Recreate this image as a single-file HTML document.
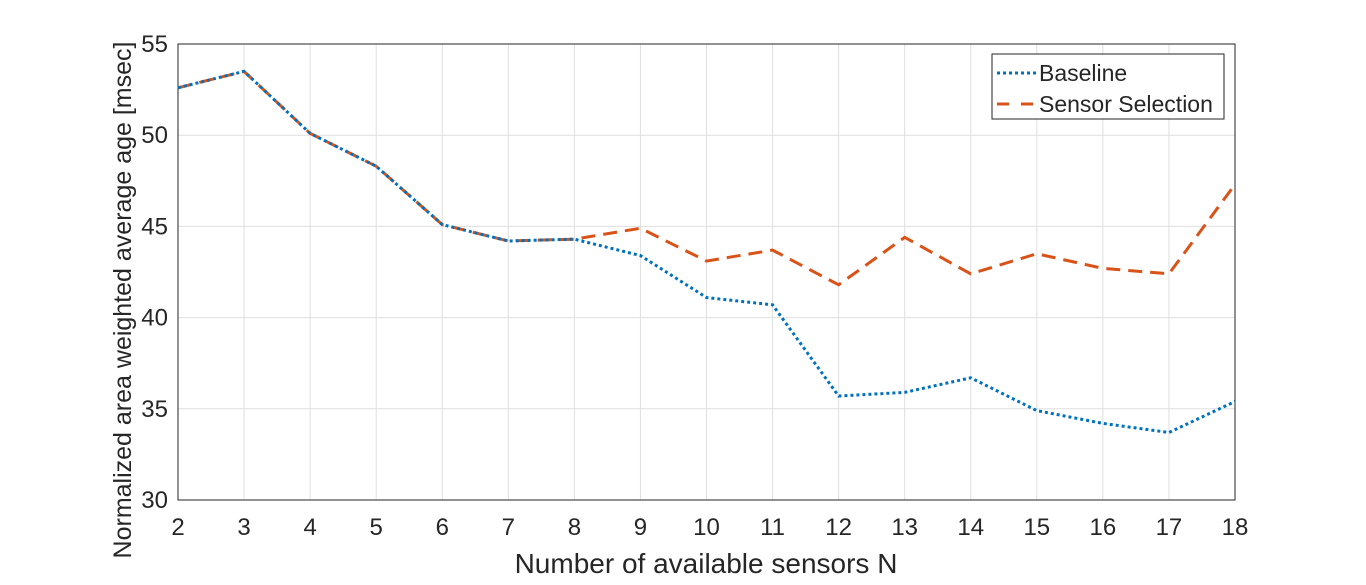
<!DOCTYPE html>
<html><head><meta charset="utf-8"><style>
body{margin:0;background:#fff;width:1366px;height:580px;overflow:hidden}
text{font-family:"Liberation Sans",Arial,sans-serif;fill:#262626}
</style></head><body>
<svg id="chart" width="1366" height="580" xmlns="http://www.w3.org/2000/svg">
<g id="grid"></g>
<g id="axes"></g>
<g id="series"></g>
<text x="706" y="573" font-size="28" text-anchor="middle">Number of available sensors N</text>
<text transform="translate(131,300) rotate(-90)" font-size="25" text-anchor="middle">Normalized area weighted average age [msec]</text>
<g>
<rect x="992" y="54" width="232" height="65" fill="#fff" stroke="#262626" stroke-width="1"/>
<line x1="997" y1="73" x2="1036" y2="73" stroke="#0072BD" stroke-width="3" stroke-dasharray="3,3"/>
<text x="1039" y="81" font-size="23">Baseline</text>
<line x1="997" y1="104" x2="1036" y2="104" stroke="#D95319" stroke-width="3" stroke-dasharray="12,12"/>
<text x="1039" y="112" font-size="23">Sensor Selection</text>
</g>
</svg>
<script>
const categories=[2,3,4,5,6,7,8,9,10,11,12,13,14,15,16,17,18];
const baseline=[52.6,53.5,50.1,48.3,45.1,44.2,44.3,43.4,41.1,40.7,35.7,35.9,36.7,34.9,34.2,33.7,35.4];
const sensorSelection=[52.6,53.5,50.1,48.3,45.1,44.2,44.3,44.9,43.1,43.7,41.8,44.4,42.4,43.5,42.7,42.4,47.3];
const yTicks=[30,35,40,45,50,55];
const L=178,R=1235,T=44,B=500;
const xs=v=>L+(v-2)/16*(R-L);
const ys=v=>B-(v-30)/25*(B-T);
const NS="http://www.w3.org/2000/svg";
function mk(tag,attrs,parent){const e=document.createElementNS(NS,tag);for(const k in attrs)e.setAttribute(k,attrs[k]);parent.appendChild(e);return e;}
const grid=document.getElementById('grid'),axes=document.getElementById('axes'),series=document.getElementById('series');
categories.forEach(c=>{
 const g=mk('line',{x1:xs(c),x2:xs(c),y1:T,y2:B,stroke:'#dfdfdf','stroke-width':1},grid);
 
 
 const t=mk('text',{x:xs(c),y:535,'font-size':24,'text-anchor':'middle'},axes);
 t.textContent=c;
 
 
});
yTicks.forEach(v=>{
 const g=mk('line',{x1:L,x2:R,y1:ys(v),y2:ys(v),stroke:'#dfdfdf','stroke-width':1},grid);
 
 
 const t=mk('text',{x:168,y:ys(v)+8,'font-size':24,'text-anchor':'end'},axes);
 t.textContent=v;
 
 
});
const box=mk('rect',{x:L,y:T,width:R-L,height:B-T,fill:'none',stroke:'#262626','stroke-width':1},axes);


function line(vals,color,dash,name){
 const p=mk('polyline',{points:vals.map((v,i)=>xs(categories[i])+','+ys(v)).join(' '),fill:'none',stroke:color,'stroke-width':3,'stroke-dasharray':dash},series);
 
 
}
line(sensorSelection,'#D95319','14,8','sensor-selection-line');
line(baseline,'#0072BD','3,3','baseline-line');
</script>
</body></html>
